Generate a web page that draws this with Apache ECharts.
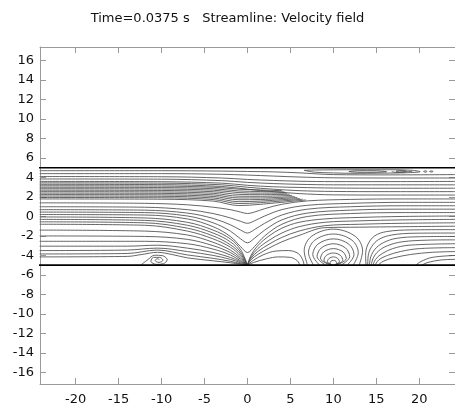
<!DOCTYPE html>
<html><head><meta charset="utf-8">
<script src="https://cdn.jsdelivr.net/npm/echarts@6/dist/echarts.min.js"></script>
<style>html,body{margin:0;padding:0;background:#fff}#c{width:455px;height:410px}</style>
</head><body><div id="c"></div>
<script>
const titleText = 'Time=0.0375 s   Streamline: Velocity field';
const xTicks = [-20,-15,-10,-5,0,5,10,15,20];
const yTicks = [-16,-14,-12,-10,-8,-6,-4,-2,0,2,4,6,8,10,12,14,16];
const xLimits = [-24.16, 24.16];
const yLimits = [-17.2, 17.4];
const wallY = [5, -5];

// streamlines crossing the whole channel (upper part)
const passLines = [
  [[-24.2,4.7],[-10,4.7],[-3,4.66],[0,4.62],[3,4.58],[6,4.48],[10,4.3],[16,4.27],[24.2,4.3]],
  [[-24.2,4.4],[-10,4.4],[-3,4.33],[0,4.25],[3,4.15],[6,4.05],[10,3.97],[16,3.95],[24.2,3.95]],
  [[-24.2,4.1],[-10,4.08],[-3,3.95],[0,3.8],[3,3.7],[6,3.62],[10,3.58],[16,3.58],[24.2,3.6]],
  [[-24.2,3.85],[-10,3.83],[-3,3.68],[0,3.5],[3,3.38],[6,3.3],[10,3.25],[16,3.25],[24.2,3.25]],
  [[-24.2,3.6],[-10,3.57],[-3,3.42],[0,3.2],[3,3.05],[6,2.98],[10,2.92],[16,2.9],[24.2,2.9]],
  [[-24.2,3.45],[-10,3.42],[-3,3.25],[0,3.0],[3,2.8],[6,2.65],[10,2.57],[16,2.55],[24.2,2.55]],
  [[-24.2,3.3],[-10,3.27],[-3,3.08],[0,2.8],[3,2.55],[6,2.35],[10,2.22],[16,2.2],[24.2,2.2]]
];
// dense band ending in the converging wedge near x = 4..7
const wedgeLines = [
  [[-24.2,3.15],[-10,3.12],[-4,3.0],[-1,2.8],[1.5,2.72],[4.0,2.65]],
  [[-24.2,3.0],[-10,2.97],[-4,2.85],[-1,2.62],[1.5,2.56],[4.3,2.52]],
  [[-24.2,2.85],[-10,2.82],[-4,2.7],[-1,2.45],[1.5,2.4],[4.6,2.4]],
  [[-24.2,2.7],[-10,2.67],[-4,2.54],[-1,2.27],[1.5,2.24],[4.9,2.28]],
  [[-24.2,2.55],[-10,2.52],[-4,2.38],[-1,2.08],[1.5,2.07],[5.2,2.16]],
  [[-24.2,2.4],[-10,2.37],[-4,2.22],[-1,1.9],[1.5,1.9],[5.5,2.05]],
  [[-24.2,2.25],[-10,2.22],[-4,2.06],[-1,1.72],[1.5,1.74],[5.8,1.95]],
  [[-24.2,2.1],[-10,2.07],[-4,1.9],[-1,1.52],[1.5,1.58],[6.1,1.85]],
  [[-24.2,1.95],[-10,1.92],[-4,1.74],[-1,1.33],[1.5,1.42],[6.4,1.77]],
  [[-24.2,1.8],[-10,1.77],[-4,1.58],[-1,1.12],[1.5,1.25],[6.8,1.7]]
];
// lines dipping into a V above the wall point x = 0
const dipLines = [
  [[-24.2,1.4],[-12,1.35],[-7,1.2],[-4,0.95],[-2,0.7],[-0.8,0.45],[0,0.3],[0.8,0.45],[2,0.8],[4,1.25],[7,1.6],[12,1.75],[18,1.8],[24.2,1.8]],
  [[-24.2,1.0],[-12,0.95],[-7,0.7],[-4,0.3],[-2,-0.15],[-0.8,-0.5],[0,-0.7],[0.8,-0.45],[2,0.05],[4,0.7],[7,1.15],[12,1.35],[18,1.45],[24.2,1.45]],
  [[-24.2,0.7],[-12,0.65],[-7,0.35],[-4,-0.2],[-2,-0.85],[-0.8,-1.4],[0,-1.7],[0.8,-1.35],[2,-0.7],[4,0.15],[7,0.75],[12,1.0],[18,1.1],[24.2,1.1]],
  [[-24.2,0.45],[-12,0.4],[-7,0.05],[-4,-0.65],[-2,-1.5],[-0.8,-2.3],[0,-2.7],[0.8,-2.25],[2,-1.4],[4,-0.35],[7,0.35],[12,0.65],[18,0.75],[24.2,0.75]],
  [[-24.2,0.2],[-12,0.15],[-7,-0.25],[-4,-1.05],[-2,-2.05],[-0.8,-3.1],[0,-3.7],[0.8,-3.1],[2,-2.0],[4,-0.8],[7,0.0],[12,0.3],[18,0.4],[24.2,0.4]]
];
// lines from the left converging into the wall point (0,-5)
const sinkLines = [
  [[-24.2,-0.05],[-12,-0.15],[-7,-0.6],[-4,-1.4],[-2,-2.3],[-0.8,-3.4],[0,-5]],
  [[-24.2,-0.3],[-12,-0.4],[-7,-0.9],[-4,-1.7],[-2,-2.6],[-0.8,-3.65],[0,-5]],
  [[-24.2,-0.55],[-12,-0.65],[-7,-1.2],[-4,-2.0],[-2,-2.9],[-0.8,-3.85],[0,-5]],
  [[-24.2,-0.8],[-12,-0.9],[-7,-1.5],[-4,-2.3],[-2,-3.15],[-0.8,-4.05],[0,-5]],
  [[-24.2,-1.4],[-12,-1.5],[-7,-1.9],[-4,-2.65],[-2,-3.45],[-0.8,-4.25],[0,-5]],
  [[-24.2,-2.0],[-12,-2.05],[-7,-2.35],[-4,-3.0],[-2,-3.7],[-0.8,-4.4],[0,-5]],
  [[-24.2,-2.55],[-12,-2.55],[-7,-2.8],[-4,-3.35],[-2,-3.95],[-0.8,-4.55],[0,-5]],
  [[-24.2,-3.05],[-14,-3.05],[-10.5,-2.95],[-7,-3.25],[-4,-3.7],[-2,-4.2],[-0.8,-4.65],[0,-5]],
  [[-24.2,-3.5],[-14,-3.45],[-10.5,-3.25],[-7,-3.6],[-4,-4.0],[-2,-4.4],[-0.8,-4.75],[0,-5]],
  [[-24.2,-3.85],[-14,-3.8],[-10.5,-3.45],[-7,-3.95],[-4,-4.3],[-2,-4.6],[-0.8,-4.85],[0,-5]],
  [[-24.2,-4.15],[-14,-4.1],[-12.3,-3.9],[-10.5,-3.68],[-8.8,-3.9],[-7,-4.25],[-4,-4.55],[-2,-4.75],[-0.8,-4.9],[0,-5]]
];
// lines leaving (0,-5) towards the right
const sourceLines = [
  [[0,-5],[0.4,-4.0],[1.2,-3.0],[2.5,-2.0],[4,-1.2],[6,-0.6],[9,-0.25],[13,-0.1],[18,0.0],[24.2,0.05]],
  [[0,-5],[0.4,-4.15],[1.2,-3.3],[2.5,-2.45],[4,-1.7],[6,-1.05],[9,-0.6],[13,-0.45],[18,-0.35],[24.2,-0.3]],
  [[0,-5],[0.4,-4.3],[1.2,-3.6],[2.5,-2.85],[4,-2.15],[6,-1.5],[9,-0.95],[13,-0.8],[18,-0.7],[24.2,-0.65]],
  [[0,-5],[0.4,-4.45],[1.2,-3.9],[2.5,-3.25],[4,-2.6],[6,-1.95],[9,-1.15],[13,-1.1],[18,-1.05],[24.2,-1.0]],
  [[0,-5],[0.6,-4.55],[1.8,-3.95],[3.3,-3.55],[4.8,-3.5],[5.9,-3.8],[6.4,-4.4],[6.6,-5]],
  [[0,-5],[0.8,-4.7],[2.2,-4.35],[3.6,-4.15],[5,-4.2],[5.8,-4.55],[6.1,-5]]
];
// lines rising from the wall right of x = 13 and running to the outlet
const lowerRightLines = [
  [[13.8,-5],[13.75,-4],[14.0,-2.9],[14.8,-2.0],[16.2,-1.55],[19,-1.38],[24.2,-1.35]],
  [[14.0,-5],[14.05,-4.05],[14.45,-3.1],[15.3,-2.35],[16.8,-1.9],[19.5,-1.72],[24.2,-1.7]],
  [[14.2,-5],[14.35,-4.15],[14.85,-3.35],[15.8,-2.7],[17.3,-2.25],[20,-2.08],[24.2,-2.05]],
  [[14.4,-5],[14.65,-4.25],[15.25,-3.55],[16.3,-3.0],[18,-2.6],[21,-2.43],[24.2,-2.4]],
  [[14.6,-5],[14.95,-4.35],[15.7,-3.8],[16.9,-3.3],[18.8,-2.95],[24.2,-2.8]],
  [[14.85,-5],[15.3,-4.45],[16.3,-4.0],[17.8,-3.6],[20,-3.3],[24.2,-3.2]],
  [[15.2,-5],[15.8,-4.6],[17,-4.25],[19,-3.9],[21.5,-3.68],[24.2,-3.6]],
  [[19.6,-5],[20.2,-4.62],[21.5,-4.2],[24.2,-4.0]],
  [[20.3,-5],[21,-4.72],[22.5,-4.47],[24.2,-4.4]]
];
// nested loops around the wall point (10,-5)
const dipoleLoops = [
  [[7.0,-5],[6.6,-3.52],[7.45,-2.04],[10,-1.3],[12.55,-2.04],[13.4,-3.52],[13.0,-5]],
  [[7.7,-5],[7.1,-3.72],[7.83,-2.44],[10,-1.8],[12.17,-2.44],[12.9,-3.72],[12.3,-5]],
  [[8.4,-5],[7.6,-3.92],[8.2,-2.84],[10,-2.3],[11.8,-2.84],[12.4,-3.92],[11.6,-5]],
  [[9.1,-5],[8.1,-4.12],[8.58,-3.24],[10,-2.8],[11.42,-3.24],[11.9,-4.12],[10.9,-5]],
  [[9.7,-5],[8.5,-4.32],[8.88,-3.64],[10,-3.3],[11.12,-3.64],[11.5,-4.32],[10.3,-5]],
  [[9.9,-5],[8.9,-4.5],[9.18,-4.0],[10,-3.75],[10.82,-4.0],[11.1,-4.5],[10.1,-5]],
  [[9.95,-5],[9.3,-4.66],[9.48,-4.32],[10,-4.15],[10.52,-4.32],[10.7,-4.66],[10.05,-5]],
  [[9.98,-5],[9.6,-4.8],[9.7,-4.6],[10,-4.5],[10.3,-4.6],[10.4,-4.8],[10.02,-5]]
];
// small recirculation near (-10.4,-4.4)
const vortexLine = [[-12.4,-4.97],[-11.7,-4.5],[-10.8,-3.98],[-9.9,-4.02],[-9.35,-4.45],[-9.8,-4.85],[-10.6,-4.92],[-11.25,-4.6],[-10.95,-4.2],[-10.2,-4.2],[-9.85,-4.5],[-10.3,-4.72],[-10.75,-4.52],[-10.5,-4.33],[-10.25,-4.45]];
// elongated eddies under the top wall
const topEddies = [
  [[6.6,4.74],[7.8,4.55],[10,4.47],[12.5,4.43],[15.5,4.45],[18.5,4.49],[20.1,4.6],[19.2,4.74],[16.5,4.8],[13,4.8],[10,4.79],[7.8,4.77],[6.6,4.74]],
  [[11.8,4.62],[12.8,4.54],[14.5,4.53],[16.2,4.6],[15,4.69],[13,4.7],[11.8,4.62]],
  [[16.8,4.6],[17.4,4.52],[18.3,4.55],[18.5,4.65],[17.9,4.72],[17.3,4.65],[17.7,4.57],[18.4,4.6],[19.2,4.62]],
  [[20.5,4.62],[20.7,4.55],[20.9,4.62],[20.7,4.69],[20.5,4.62]],
  [[21.2,4.62],[21.4,4.56],[21.6,4.62],[21.4,4.68],[21.2,4.62]]
];

const lineColor = '#4a4a4a';
function stream(pts) {
  return { type:'line', data: pts, symbol:'none', showSymbol:false, smooth:0.35,
    silent:true, animation:false, clip:true, z:2,
    lineStyle:{ color: lineColor, width: 0.85 } };
}
const series = [];
[passLines, wedgeLines, dipLines, sinkLines, sourceLines, lowerRightLines, dipoleLoops, topEddies]
  .forEach(group => group.forEach(l => series.push(stream(l))));
series.push(stream(vortexLine));
wallY.forEach(y => series.push({ type:'line', data:[[xLimits[0]-1,y],[xLimits[1]+1,y]], symbol:'none',
  silent:true, animation:false, clip:true, z:3, lineStyle:{ color:'#000', width:1.6 } }));

const axisGray = '#9a9a9a';
const font = 'DejaVu Sans';
function xAx(pos, labels) {
  return { type:'value', position:pos, min:xLimits[0], max:xLimits[1],
    axisLine:{ show:true, onZero:false, lineStyle:{ color:axisGray, width:1 } },
    axisTick:{ show:true, inside:true, length:6, customValues:xTicks, lineStyle:{ color:axisGray } },
    axisLabel:{ show:labels, customValues:xTicks, color:'#111', fontSize:13, fontFamily:font, margin:9 },
    splitLine:{ show:false } };
}
function yAx(pos, labels) {
  return { type:'value', position:pos, min:yLimits[0], max:yLimits[1],
    axisLine:{ show:true, onZero:false, lineStyle:{ color:axisGray, width:1 } },
    axisTick:{ show:true, inside:true, length:6, customValues:yTicks, lineStyle:{ color:axisGray } },
    axisLabel:{ show:labels, customValues:yTicks, color:'#111', fontSize:13, fontFamily:font, margin:6 },
    splitLine:{ show:false } };
}
const chart = echarts.init(document.getElementById('c'), null, { renderer:'canvas' });
chart.setOption({
  animation:false,
  backgroundColor:'#fff',
  title:{ text:titleText, left:'center', top:7,
    textStyle:{ fontSize:13, fontWeight:'normal', color:'#111', fontFamily:font } },
  grid:{ left:40, top:47, width:418, height:337, containLabel:false },
  xAxis:[ xAx('bottom', true), xAx('top', false) ],
  yAxis:[ yAx('left', true), yAx('right', false) ],
  series: series
});
</script></body></html>
